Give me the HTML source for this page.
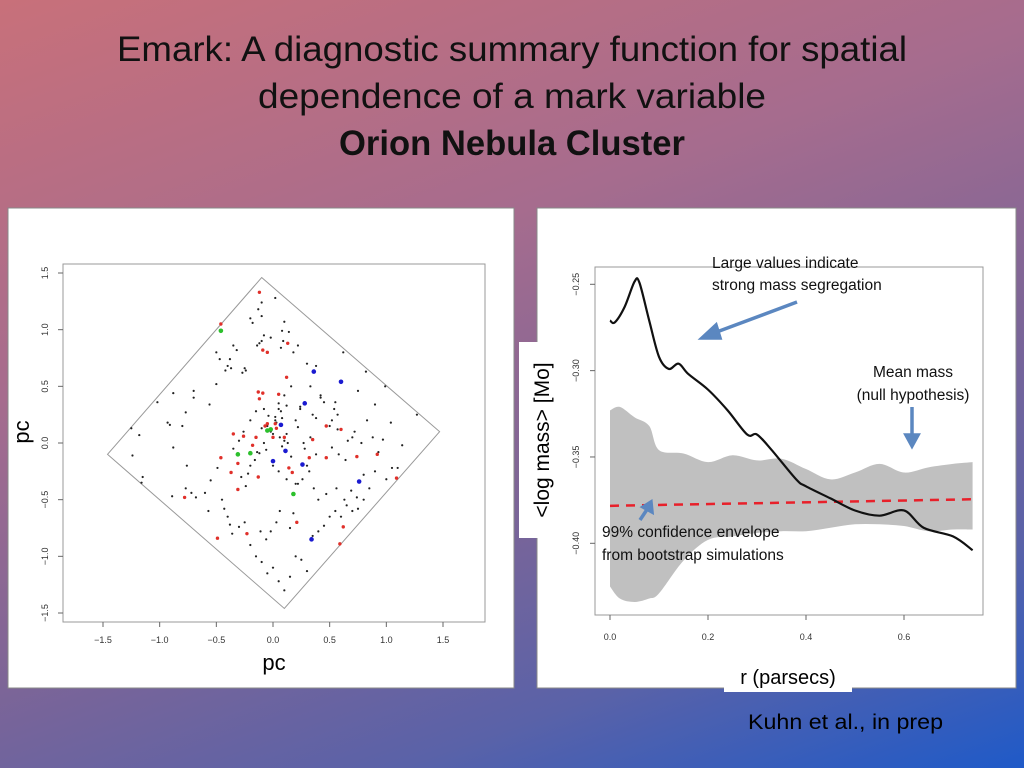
<!DOCTYPE html>
<html><head><meta charset="utf-8">
<style>
html,body{margin:0;padding:0;width:1024px;height:768px;overflow:hidden}
body{background:linear-gradient(160deg,#c8707a 0%,#a66c8e 35%,#7d6597 60%,#5a62a8 80%,#1f5ac8 100%);font-family:"Liberation Sans",sans-serif}
svg text{font-family:"Liberation Sans",sans-serif}
</style></head><body>
<svg id="root" width="1024" height="768" viewBox="0 0 1024 768" xmlns="http://www.w3.org/2000/svg">
<text x="512" y="61" text-anchor="middle" font-size="35" textLength="790" lengthAdjust="spacingAndGlyphs" fill="#111">Emark: A diagnostic summary function for spatial</text>
<text x="512" y="108" text-anchor="middle" font-size="35" textLength="508" lengthAdjust="spacingAndGlyphs" fill="#111">dependence of a mark variable</text>
<text x="512" y="155" text-anchor="middle" font-size="35" font-weight="bold" textLength="346" lengthAdjust="spacingAndGlyphs" fill="#111">Orion Nebula Cluster</text>

<rect x="8" y="208" width="506" height="480" fill="#fff" stroke="#888"/>
<rect x="537" y="208" width="479" height="480" fill="#fff" stroke="#888"/>
<rect x="519" y="342" width="24" height="196" fill="#fff"/>
<rect x="724" y="662" width="128" height="30" fill="#fff"/>

<g id="left"></g>
<g id="right"></g>

<text transform="translate(29,432) rotate(-90)" text-anchor="middle" font-size="22" fill="#000">pc</text>
<text x="274" y="670" text-anchor="middle" font-size="22" fill="#000">pc</text>
<text transform="translate(549,440) rotate(-90)" text-anchor="middle" font-size="21" fill="#000">&lt;log mass&gt; [Mo]</text>
<text x="788" y="684" text-anchor="middle" font-size="20" fill="#000">r (parsecs)</text>
<text x="748" y="729" font-size="21" textLength="195" lengthAdjust="spacingAndGlyphs" fill="#000">Kuhn et al., in prep</text>

<text x="712" y="268" font-size="15.5" fill="#111">Large values indicate</text>
<text x="712" y="290" font-size="15.5" fill="#111">strong mass segregation</text>
<text x="913" y="377" text-anchor="middle" font-size="15.5" fill="#111">Mean mass</text>
<text x="913" y="400" text-anchor="middle" font-size="15.5" fill="#111">(null hypothesis)</text>
<text x="602" y="537" font-size="15.5" fill="#111">99% confidence envelope</text>
<text x="602" y="560" font-size="15.5" fill="#111">from bootstrap simulations</text>
<g stroke="#5b87c0" stroke-width="3.5" fill="#5b87c0">
<line x1="797" y1="302" x2="714" y2="333"/>
<polygon points="702,338 716,325 720,338"/>
<line x1="912" y1="407" x2="912" y2="437"/>
<polygon points="906,435 918,435 912,446"/>
<line x1="640" y1="520" x2="648" y2="508"/>
<polygon points="651,502 643,507 652,512"/>
</g>
</svg>
<script>
// ---------- scatter plot data (pc) ----------
const blackX=[-0.1,0.02,-0.13,-0.1,0.1,-0.2,-0.18,0.08,0.14,-0.08,-0.1,-0.02,0.07,-0.12,-0.14,0.09,-0.32,-0.35,-0.5,-0.47,-0.38,-0.4,-0.42,-0.37,-0.27,-0.25,-0.24,-0.5,-0.88,-1.02,-0.93,-0.91,-0.8,-0.7,-0.7,-0.77,-0.56,-1.25,-1.18,-1.24,-1.15,-1.16,-0.88,-0.89,-0.77,-0.76,-0.72,-0.68,-0.6,-0.57,-0.55,-0.49,-0.45,-0.43,-0.4,-0.38,-0.36,-0.3,-0.25,-0.2,-0.15,-0.1,-0.05,0.0,0.05,0.1,0.15,0.2,0.25,0.3,0.35,0.4,0.45,0.5,0.55,0.6,0.65,0.7,0.75,0.8,0.85,0.9,1.0,1.05,1.1,1.14,1.27,0.82,0.9,0.99,0.75,0.62,0.54,0.38,0.42,0.45,0.52,0.55,0.57,0.66,0.7,0.72,0.78,0.83,0.88,0.93,0.97,1.04,0.3,0.33,0.35,0.22,0.18,0.24,0.38,0.42,0.5,0.57,0.28,0.3,0.32,0.26,0.22,0.36,0.4,0.47,0.56,0.63,0.69,0.74,0.8,0.52,0.58,0.64,0.05,0.1,0.16,0.2,0.24,0.27,0.33,0.38,0.02,0.07,0.12,-0.04,-0.08,-0.15,-0.2,-0.26,-0.3,-0.35,-0.12,-0.16,0.0,0.05,0.12,0.2,0.06,0.03,-0.02,-0.06,-0.11,0.15,0.18,-0.2,-0.24,-0.28,-0.22,-0.05,0.02,0.08,0.12,-0.02,0.1,-0.08,0.0,0.05,-0.03,0.06,-0.1,0.03,0.08,-0.06,-0.14,0.13,0.16,0.22];
const blackY=[1.24,1.28,1.18,1.12,1.07,1.1,1.06,0.99,0.98,0.95,0.9,0.93,0.84,0.88,0.86,0.9,0.82,0.86,0.8,0.74,0.74,0.68,0.64,0.66,0.62,0.66,0.64,0.52,0.44,0.36,0.18,0.16,0.15,0.46,0.4,0.27,0.34,0.13,0.07,-0.11,-0.3,-0.35,-0.04,-0.47,-0.4,-0.2,-0.44,-0.48,-0.44,-0.6,-0.33,-0.22,-0.5,-0.58,-0.65,-0.72,-0.8,-0.74,-0.7,-0.9,-1.0,-1.05,-1.15,-1.1,-1.22,-1.3,-1.18,-1.0,-1.03,-1.13,-0.82,-0.78,-0.73,-0.65,-0.6,-0.65,-0.55,-0.6,-0.58,-0.5,-0.4,-0.25,-0.32,-0.22,-0.22,-0.02,0.25,0.63,0.34,0.5,0.46,0.8,0.3,0.68,0.42,0.36,0.2,0.36,0.12,0.02,0.05,0.1,0.0,0.2,0.05,-0.08,0.03,0.18,0.7,0.5,0.25,0.86,0.8,0.32,0.22,0.4,0.15,0.25,-0.05,-0.2,-0.25,-0.32,-0.36,-0.4,-0.5,-0.45,-0.4,-0.5,-0.42,-0.48,-0.28,-0.04,-0.1,-0.15,0.35,0.42,0.5,0.2,0.3,0.0,0.05,-0.1,0.23,0.28,0.33,0.24,0.3,0.28,0.2,0.1,0.02,-0.05,-0.09,-0.15,-0.2,-0.25,-0.32,-0.36,-0.6,-0.7,-0.78,-0.85,-0.78,-0.75,-0.62,-0.2,-0.38,-0.3,-0.27,0.15,0.2,0.22,0.08,0.1,0.02,0.0,0.08,0.3,0.12,0.05,0.13,0.18,-0.03,-0.06,-0.08,0.0,-0.12,0.14,0.08,-0.06];
const redX=[-0.12,-0.46,0.13,-0.05,-0.09,0.12,-0.13,-0.09,-0.12,0.05,-0.05,-0.07,0.02,0.03,-0.15,0.0,-0.35,-0.26,-0.18,0.1,0.35,0.47,0.6,0.47,0.32,0.74,0.92,-0.46,-0.31,-0.37,0.14,0.17,-0.13,-0.31,-0.78,-0.49,-0.23,0.21,0.62,0.59,1.09];
const redY=[1.33,1.05,0.88,0.8,0.82,0.58,0.45,0.44,0.39,0.43,0.17,0.15,0.17,0.13,0.05,0.05,0.08,0.06,-0.02,0.05,0.03,0.15,0.12,-0.13,-0.13,-0.12,-0.1,-0.13,-0.18,-0.26,-0.22,-0.26,-0.3,-0.41,-0.48,-0.84,-0.8,-0.7,-0.74,-0.89,-0.31];
const blueX=[0.36,0.6,0.28,0.07,0.11,0.0,0.26,0.76,0.34];
const blueY=[0.63,0.54,0.35,0.16,-0.07,-0.16,-0.19,-0.34,-0.85];
const greenX=[-0.46,-0.02,-0.05,-0.31,-0.2,0.18];
const greenY=[0.99,0.12,0.11,-0.1,-0.09,-0.45];
const footprintX=[-0.1,1.47,0.1,-1.46];
const footprintY=[1.46,0.1,-1.46,-0.1];
const leftTicks=[-1.5,-1.0,-0.5,0.0,0.5,1.0,1.5];
const leftTickLabels=["\u22121.5","\u22121.0","\u22120.5","0.0","0.5","1.0","1.5"];

// ---------- emark data ----------
const rVals=[0,0.01,0.03,0.05,0.06,0.08,0.1,0.12,0.14,0.16,0.2,0.24,0.28,0.3,0.33,0.38,0.4,0.45,0.5,0.55,0.6,0.64,0.7,0.74];
const emark=[-0.271,-0.272,-0.263,-0.2485,-0.249,-0.271,-0.292,-0.299,-0.296,-0.302,-0.311,-0.323,-0.337,-0.337,-0.346,-0.363,-0.367,-0.374,-0.381,-0.384,-0.381,-0.391,-0.396,-0.404];
const envR=[0,0.02,0.05,0.08,0.1,0.15,0.2,0.25,0.3,0.35,0.4,0.45,0.5,0.55,0.6,0.65,0.7,0.74];
const envUpper=[-0.323,-0.321,-0.327,-0.332,-0.346,-0.348,-0.353,-0.349,-0.352,-0.351,-0.357,-0.363,-0.359,-0.354,-0.359,-0.356,-0.354,-0.353];
const envLower=[-0.425,-0.432,-0.434,-0.432,-0.429,-0.41,-0.398,-0.396,-0.394,-0.393,-0.393,-0.391,-0.389,-0.389,-0.39,-0.393,-0.392,-0.392];
const meanR=[0,0.74];
const meanVal=[-0.3783,-0.3745];
const rTicks=[0,0.2,0.4,0.6];
const rTickLabels=["0.0","0.2","0.4","0.6"];
const yTicks=[-0.25,-0.30,-0.35,-0.40];
const yTickLabels=["\u22120.25","\u22120.30","\u22120.35","\u22120.40"];

const NS="http://www.w3.org/2000/svg";
function mk(parent,tag,attrs){const e=document.createElementNS(NS,tag);for(const k in attrs)e.setAttribute(k,attrs[k]);parent.appendChild(e);return e;}
function smooth(p,start){ // Catmull-Rom through points
  let d=start?'M'+p[0][0]+','+p[0][1]:'L'+p[0][0]+','+p[0][1];
  for(let i=0;i<p.length-1;i++){
    const p0=p[Math.max(i-1,0)],p1=p[i],p2=p[i+1],p3=p[Math.min(i+2,p.length-1)];
    const c1=[p1[0]+(p2[0]-p0[0])/6,p1[1]+(p2[1]-p0[1])/6];
    const c2=[p2[0]-(p3[0]-p1[0])/6,p2[1]-(p3[1]-p1[1])/6];
    d+=`C${c1[0]},${c1[1]} ${c2[0]},${c2[1]} ${p2[0]},${p2[1]}`;
  }
  return d;
}

// left axes
const lx=v=>273+v*113.33, ly=v=>443-v*113.33;
const L=document.getElementById('left');
let fr=mk(L,'rect',{x:63,y:264,width:422,height:358,fill:'none',stroke:'#999','stroke-width':1});


let pts=footprintX.map((x,i)=>lx(x)+','+ly(footprintY[i])).join(' ');
let fp=mk(L,'polygon',{points:pts,fill:'none',stroke:'#999','stroke-width':1});


leftTicks.forEach((t,i)=>{
  let a=mk(L,'line',{x1:lx(t),y1:622,x2:lx(t),y2:627,stroke:'#666'});
  
  
  let tx=mk(L,'text',{x:lx(t),y:643,'text-anchor':'middle','font-size':9,fill:'#333'});tx.textContent=leftTickLabels[i];
  
  
  let b=mk(L,'line',{x1:58,y1:ly(t),x2:63,y2:ly(t),stroke:'#666'});
  
  
  let ty=mk(L,'text',{transform:`translate(48,${ly(t)}) rotate(-90)`,'text-anchor':'middle','font-size':9,fill:'#333'});ty.textContent=leftTickLabels[i];
  
  
});
function dots(xs,ys,r,col,name){xs.forEach((x,i)=>{let c=mk(L,'circle',{cx:lx(x),cy:ly(ys[i]),r:r,fill:col});
  
  });}
dots(blackX,blackY,1.1,'#222','star-point');
dots(redX,redY,1.7,'#e0302a','star-point-red');
dots(blueX,blueY,2.3,'#1a1ad0','star-point-blue');
dots(greenX,greenY,2.3,'#2cc02c','star-point-green');

// right axes
const rx=v=>610+v*490, ry=v=>284.3-(v+0.25)*1726.7;
const R=document.getElementById('right');
const up=envR.map((r,i)=>[rx(r),ry(envUpper[i])]);
const lo=envR.map((r,i)=>[rx(r),ry(envLower[i])]).reverse();
let ep=mk(R,'path',{d:smooth(up,true)+smooth(lo,false)+'Z',fill:'#c0c0c0'});


let ml=mk(R,'line',{x1:rx(meanR[0]),y1:ry(meanVal[0]),x2:rx(meanR[1]),y2:ry(meanVal[1]),stroke:'#e8202a','stroke-width':2.5,'stroke-dasharray':'9,7'});


const cp=rVals.map((r,i)=>[rx(r),ry(emark[i])]);
let cl=mk(R,'path',{d:smooth(cp,true),fill:'none',stroke:'#111','stroke-width':2.2,'stroke-linejoin':'round'});


let rf=mk(R,'rect',{x:595,y:267,width:388,height:348,fill:'none',stroke:'#999'});


rTicks.forEach((t,i)=>{
  let a=mk(R,'line',{x1:rx(t),y1:615,x2:rx(t),y2:620,stroke:'#666'});
  
  
  let tx=mk(R,'text',{x:rx(t),y:640,'text-anchor':'middle','font-size':9,fill:'#333'});tx.textContent=rTickLabels[i];
  
  
});
yTicks.forEach((t,i)=>{
  let b=mk(R,'line',{x1:590,y1:ry(t),x2:595,y2:ry(t),stroke:'#666'});
  
  
  let ty=mk(R,'text',{transform:`translate(579,${ry(t)}) rotate(-90)`,'text-anchor':'middle','font-size':9,fill:'#333'});ty.textContent=yTickLabels[i];
  
  
});
</script>
</body></html>
